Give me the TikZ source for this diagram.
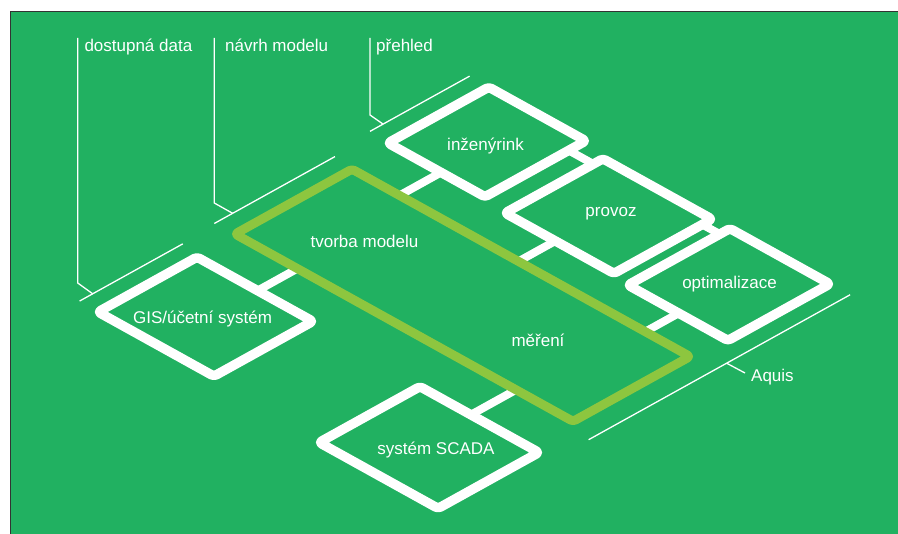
\documentclass[tikz,border=0pt]{standalone}
\usepackage{fontspec}
\setmainfont{Liberation Sans}
\definecolor{bg}{HTML}{21B161}
\definecolor{lime}{HTML}{8DC63F}
\definecolor{edge}{HTML}{333333}
\tikzset{
  box/.style={draw=white, line width=9.5pt, rounded corners=3pt, line join=round},
  bigbox/.style={draw=lime, line width=9pt, rounded corners=3pt, line join=round},
  link/.style={draw=white, line width=8pt},
  thin/.style={draw=white, line width=1.3pt},
  lbl/.style={text=white, inner sep=0pt, font=\fontsize{17}{20}\selectfont},
}
\begin{document}
\begin{tikzpicture}[x=1pt, y=-1pt]
\useasboundingbox (0,0) rectangle (898,534);
\fill[white] (0,0) rectangle (898,534);
\fill[bg] (10.5,11.5) rectangle (898,534);
\draw[edge, line width=1.5pt] (10.5,534) -- (10.5,11.5) -- (898,11.5);

% isometric plane: x runs down-right, y runs up-right
\begin{scope}[x={(0.8746pt,-0.4848pt)}, y={(0.8746pt,0.4848pt)}]
  % connector ends
  \coordinate (gis-a) at (447,-152.5);   \coordinate (gis-b) at (447,-107);
  \coordinate (scada-a) at (697,-158.6); \coordinate (scada-b) at (697,-107);
  \coordinate (inz-a) at (430,26.8);     \coordinate (inz-b) at (430,74.3);
  \coordinate (prov-a) at (566,26.8);    \coordinate (prov-b) at (566,69);
  \coordinate (opt-a) at (711,26.8);     \coordinate (opt-b) at (711,65);
  \coordinate (ip-a) at (480.2,170);     \coordinate (ip-b) at (508.4,170);
  \coordinate (po-a) at (633,170);       \coordinate (po-b) at (653,170);
  \draw[link] (gis-a) -- (gis-b);
  \draw[link] (scada-a) -- (scada-b);
  \draw[link] (inz-a) -- (inz-b);
  \draw[link] (prov-a) -- (prov-b);
  \draw[link] (opt-a) -- (opt-b);
  \draw[link] (ip-a) -- (ip-b);
  \draw[link] (po-a) -- (po-b);

  % boxes
  \draw[box] (377.8,-265.7) -- (510.3,-265.7) -- (510.3,-152.5) -- (377.8,-152.5) -- cycle;
  \draw[box] (638.8,-273.9) -- (774.8,-273.9) -- (774.8,-158.6) -- (638.8,-158.6) -- cycle;
  \draw[box] (369.3,74.3) -- (480.2,74.3) -- (480.2,189.6) -- (369.3,189.6) -- cycle;
  \draw[box] (508.4,69) -- (633,69) -- (633,181) -- (508.4,181) -- cycle;
  \draw[box] (653,65) -- (767.3,65) -- (767.3,181.6) -- (653,181.6) -- cycle;
  \draw[bigbox] (375.7,-107) -- (762.2,-107) -- (762.2,26.8) -- (375.7,26.8) -- cycle;

  % guide lines beside the layers
  \coordinate (dd-s) at (356,-265); \coordinate (dd-e) at (356,-147); \coordinate (dd-t) at (356,-250);
  \coordinate (nm-s) at (353,-108); \coordinate (nm-e) at (353,30);   \coordinate (nm-t) at (353,-87);
  \coordinate (ph-s) at (347,76);   \coordinate (ph-e) at (347,190);  \coordinate (ph-t) at (347,91);
  \coordinate (aq-s) at (790,-117); \coordinate (aq-e) at (790,182);  \coordinate (aq-t) at (790,40.8);
  \draw[thin] (dd-s) -- (dd-e);
  \draw[thin] (nm-s) -- (nm-e);
  \draw[thin] (ph-s) -- (ph-e);
  \draw[thin] (aq-s) -- (aq-e);
\end{scope}

% labels on top
\node[lbl, anchor=base west] (dd) at (84.3,52) {dostupná data};
\node[lbl, anchor=base west] (nm) at (225,52) {návrh modelu};
\node[lbl, anchor=base west] (ph) at (376,52) {přehled};
\coordinate (dd-top) at (77.7,38);  \coordinate (dd-k) at (77.7,283);
\coordinate (nm-top) at (214.3,38); \coordinate (nm-k) at (214.3,203);
\coordinate (ph-top) at (370,38);   \coordinate (ph-k) at (370,115);
\draw[thin] (dd-top) -- (dd-k) -- (dd-t);
\draw[thin] (nm-top) -- (nm-k) -- (nm-t);
\draw[thin] (ph-top) -- (ph-k) -- (ph-t);

\node[lbl, anchor=base west] (aq) at (751,382) {Aquis};
\coordinate (aq-k) at (745,373);
\draw[thin] (aq-t) -- (aq-k);

% box captions
\node[lbl, anchor=base] (gis) at (202.5,324) {GIS/účetní systém};
\node[lbl, anchor=base] (inz) at (485.5,151) {inženýrink};
\node[lbl, anchor=base] (prov) at (611,217) {provoz};
\node[lbl, anchor=base] (opt) at (729.5,289) {optimalizace};
\node[lbl, anchor=base] (tvm) at (364.5,248) {tvorba modelu};
\node[lbl, anchor=base] (mer) at (538,347) {měření};
\node[lbl, anchor=base] (scada) at (436,455) {systém SCADA};
\end{tikzpicture}
\end{document}
